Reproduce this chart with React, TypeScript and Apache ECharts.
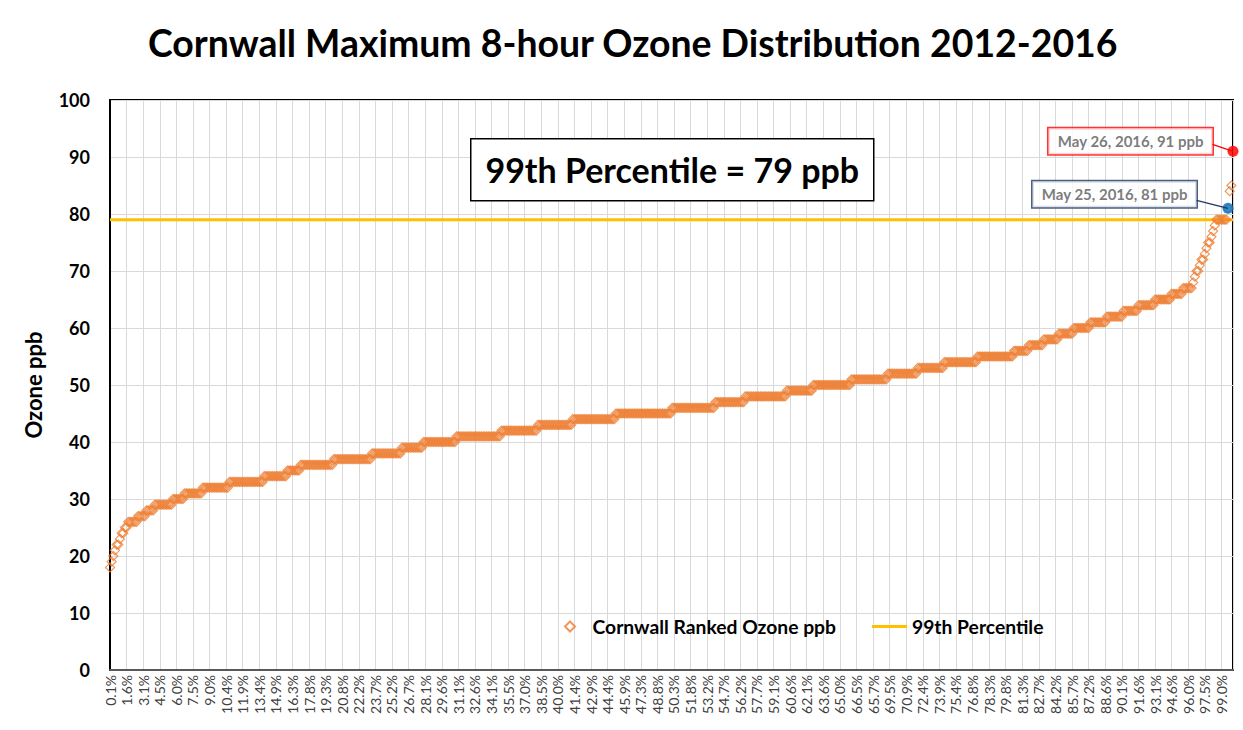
import React, { useEffect, useRef } from 'react';
import * as echarts from 'echarts';

// Ranked daily max 8-hour ozone values (ppb) as run-lengths: value and number of days
const ozoneLevels = [18, 19, 20, 21, 22, 23, 24, 25, 26, 27, 28, 29, 30, 31, 32, 33, 34, 35, 36, 37, 38, 39, 40, 41, 42, 43, 44, 45, 46, 47, 48, 49, 50, 51, 52, 53, 54, 55, 56, 57, 58, 59, 60, 61, 62, 63, 64, 65, 66, 67, 68, 69, 70, 71, 72, 73, 74, 75, 76, 77, 78, 79, 81, 84, 85, 91];
const dayCounts = [1, 1, 1, 1, 2, 1, 2, 2, 6, 5, 5, 11, 7, 11, 16, 21, 14, 8, 20, 23, 18, 13, 20, 27, 22, 21, 26, 34, 26, 18, 25, 16, 23, 22, 18, 16, 20, 22, 9, 9, 9, 9, 10, 10, 10, 9, 10, 10, 7, 6, 1, 1, 2, 1, 2, 1, 1, 2, 1, 1, 1, 7, 1, 1, 1, 1];

const tickLabels = ['0.1%', '1.6%', '3.1%', '4.5%', '6.0%', '7.5%', '9.0%', '10.4%', '11.9%', '13.4%', '14.9%', '16.3%', '17.8%', '19.3%', '20.8%', '22.2%', '23.7%', '25.2%', '26.7%', '28.1%', '29.6%', '31.1%', '32.6%', '34.1%', '35.5%', '37.0%', '38.5%', '40.0%', '41.4%', '42.9%', '44.4%', '45.9%', '47.3%', '48.8%', '50.3%', '51.8%', '53.2%', '54.7%', '56.2%', '57.7%', '59.1%', '60.6%', '62.1%', '63.6%', '65.0%', '66.5%', '65.7%', '69.5%', '70.9%', '72.4%', '73.9%', '75.4%', '76.8%', '78.3%', '79.8%', '81.3%', '82.7%', '84.2%', '85.7%', '87.2%', '88.6%', '90.1%', '91.6%', '93.1%', '94.6%', '96.0%', '97.5%', '99.0%'];
const labelStep = 10;

const percentileValue = 79;
const highlightValues = [91, 81];
const highlightDates = ['May 26, 2016', 'May 25, 2016'];
const highlightColors = ['#FF0000', '#0070C0'];
const highlightBorders = ['#FF0000', '#203864'];

const FONT = 'Lato, "Noto Sans", sans-serif';

export default function App() {
  const ref = useRef<HTMLDivElement>(null);
  useEffect(() => {
    const chart = echarts.init(ref.current!, null, { renderer: 'svg' });
    const ranked: number[] = [];
    ozoneLevels.forEach((v, i) => {
      for (let k = 0; k < dayCounts[i]; k++) ranked.push(v);
    });
    const n = ranked.length;
    const categories = ranked.map((_, i) => (i % labelStep === 0 ? tickLabels[i / labelStep] ?? '' : ''));
    const everyStep = (idx: number) => idx % labelStep === 0;

    const labelDistance = [15, 26];
    const labelDy = [-10, -14];

    const highlightSeries = highlightValues.map((v, h) => ({
      type: 'scatter',
      name: highlightDates[h],
      data: [[ranked.lastIndexOf(v), v]],
      symbol: 'circle',
      symbolSize: 11,
      itemStyle: { color: highlightColors[h] },
      z: 6,
      label: {
        show: true,
        position: 'left',
        distance: labelDistance[h],
        formatter: () => `${highlightDates[h]}, ${v} ppb`,
        backgroundColor: '#fff',
        borderColor: highlightBorders[h],
        borderWidth: 1.5,
        padding: [6, 9, 5, 9],
        fontFamily: FONT,
        fontSize: 15,
        fontWeight: 'bold',
        color: '#595959',
      },
      labelLayout: { dy: labelDy[h] },
    }));

    chart.setOption({
      animation: false,
      backgroundColor: '#fff',
      title: {
        text: 'Cornwall Maximum 8-hour Ozone Distribution 2012-2016',
        left: 143,
        top: 19,
        textStyle: { fontFamily: FONT, fontSize: 37.4, fontWeight: 'bold', color: '#000' },
      },
      grid: {
        left: 110,
        top: 100,
        right: 10,
        bottom: 60,
        show: true,
        borderColor: '#000',
        borderWidth: 2,
      },
      legend: {
        left: 559,
        top: 612,
        itemWidth: 35,
        itemHeight: 10,
        itemGap: 36,
        data: [
          { name: 'Cornwall Ranked Ozone ppb', icon: 'path://M5,0 L10,5 L5,10 L0,5 Z' },
          { name: '99th Percentile', icon: 'path://M0,0 L35,0 L35,3 L0,3 Z' },
        ],
        textStyle: { fontFamily: FONT, fontSize: 19.3, fontWeight: 'bold', color: '#000' },
      },
      xAxis: [
        {
          type: 'category',
          data: categories,
          boundaryGap: false,
          axisLine: { show: true, lineStyle: { color: '#595959', width: 2 } },
          axisTick: { show: false },
          splitLine: { show: false },
          axisLabel: {
            interval: everyStep,
            rotate: 90,
            fontFamily: FONT,
            fontSize: 14,
            color: '#404040',
            margin: 5,
          },
          z: 4,
        },
        {
          // helper axis on the same index scale, only for the vertical gridlines
          type: 'value',
          min: 0,
          max: n - 1,
          interval: labelStep,
          position: 'bottom',
          axisLine: { show: false },
          axisTick: { show: false },
          axisLabel: { show: false },
          splitLine: { show: true, lineStyle: { color: '#d9d9d9', width: 1 } },
        },
      ],
      yAxis: {
        type: 'value',
        min: 0,
        max: 100,
        interval: 10,
        name: 'Ozone ppb',
        nameLocation: 'middle',
        nameGap: 66,
        nameTextStyle: { fontFamily: FONT, fontSize: 22, fontWeight: 'bold', color: '#000' },
        axisLine: { show: true, lineStyle: { color: '#000', width: 2 } },
        axisTick: { show: false },
        splitLine: { show: true, lineStyle: { color: '#d9d9d9', width: 1 } },
        axisLabel: { fontFamily: FONT, fontSize: 18, fontWeight: 'bold', color: '#000', margin: 20 },
      },
      series: [
        {
          type: 'line',
          name: '99th Percentile',
          data: [[0, percentileValue], [n - 1, percentileValue]],
          symbol: 'none',
          lineStyle: { color: '#FFC000', width: 3 },
          itemStyle: { color: '#FFC000' },
          z: 2,
        },
        {
          type: 'scatter',
          name: 'Cornwall Ranked Ozone ppb',
          data: ranked,
          symbol: 'diamond',
          symbolSize: 9,
          itemStyle: { color: 'rgba(255,255,255,0)', borderColor: '#ED7D31', borderWidth: 1.2 },
          z: 3,
        },
        ...highlightSeries,
      ],
    });

    // leader lines from label boxes to highlighted points, positioned via the chart's scales
    const leaders = highlightValues.map((v, h) => {
      const p = chart.convertToPixel({ xAxisIndex: 0, yAxisIndex: 0 }, [ranked.lastIndexOf(v), v]) as number[];
      const x1 = p[0] - 5.5 - labelDistance[h];
      const y1 = p[1] + labelDy[h] + (h === 0 ? 3 : 6);
      return {
        type: 'line',
        z: 50,
        shape: { x1, y1, x2: p[0], y2: p[1] },
        style: { stroke: highlightBorders[h], lineWidth: 1.3 },
      };
    });

    chart.setOption({
      graphic: [
        {
          type: 'group',
          left: 470,
          top: 138,
          z: 100,
          children: [
            { type: 'rect', z: 100, shape: { x: 0, y: 0, width: 403, height: 62 }, style: { fill: '#fff', stroke: '#000', lineWidth: 1.5 } },
            {
              type: 'text',
              z: 101,
              x: 201.5,
              y: 31,
              style: {
                text: `99th Percentile = ${percentileValue} ppb`,
                fontFamily: FONT,
                fontSize: 34,
                fontWeight: 'bold',
                fill: '#000',
                align: 'center',
                verticalAlign: 'middle',
              },
            },
          ],
        },
        ...leaders,
      ],
    });
    return () => chart.dispose();
  }, []);
  return <div ref={ref} style={{ position: 'absolute', left: 0, top: 0, width: 1243, height: 730 }} />;
}
